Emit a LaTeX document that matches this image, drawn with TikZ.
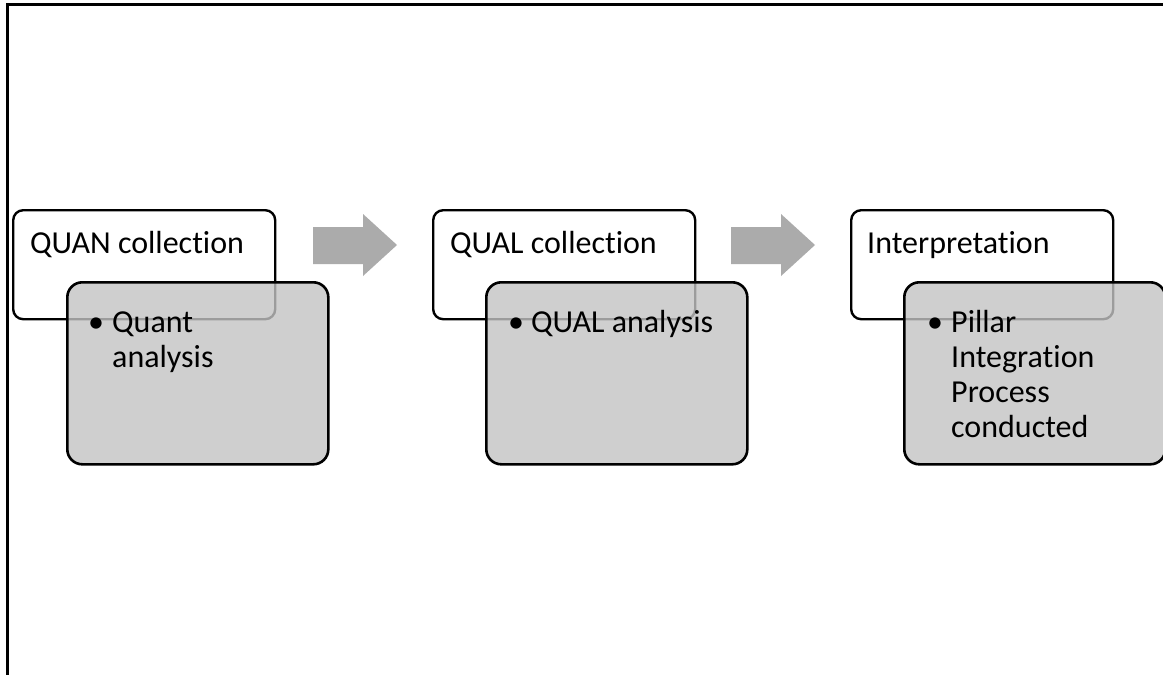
\documentclass[tikz,border=0pt]{standalone}
\usepackage{fontspec}
\setmainfont{Carlito}[Ligatures=NoCommon]
\begin{document}
\begin{tikzpicture}[x=1pt,y=-1pt,
  topbox/.style={draw=black,line width=2.4pt,rounded corners=10pt,fill=white,anchor=north west,minimum width=262pt,minimum height=109pt,inner sep=0pt},
  subbox/.style={draw=black,line width=2.6pt,rounded corners=15pt,fill={rgb,255:red,196;green,196;blue,196},fill opacity=0.8,anchor=north west,minimum width=261pt,minimum height=182pt,inner sep=0pt},
  lbl/.style={anchor=base west,inner sep=0pt,font=\fontsize{32}{35}\selectfont,text=black},
  bul/.style={anchor=base,inner sep=0pt,font=\fontsize{32}{35}\selectfont,text=black},
  arrowfill/.style={fill={rgb,255:red,171;green,171;blue,171}}]
\useasboundingbox (0,0) rectangle (1163,675);
\fill[white] (0,0) rectangle (1163,675);
\draw[line width=3pt] (7,675) -- (7,4) -- (1163,4);

% stage 1
\node[topbox] (w1) at (12,209) {};
\node[lbl] (t1) at (30,253) {QUAN collection};
\node[subbox] (g1) at (66,281) {};
\node[bul] (b1) at (96,332) {•};
\node[lbl] (s1) at (112,332) {\parbox[t]{200pt}{\raggedright Quant\\analysis}};

% arrow 1
\coordinate (a1) at (313,227);
\fill[arrowfill] (a1) -- ++(50,0) -- ++(0,-13) -- ++(34,31) -- ++(-34,31) -- ++(0,-12) -- ++(-50,0) -- cycle;

% stage 2
\node[topbox] (w2) at (432,209) {};
\node[lbl] (t2) at (450,253) {QUAL collection};
\node[subbox] (g2) at (485,281) {};
\node[bul] (b2) at (516,332) {•};
\node[lbl] (s2) at (531,332) {QUAL analysis};

% arrow 2
\coordinate (a2) at (731,227);
\fill[arrowfill] (a2) -- ++(50,0) -- ++(0,-13) -- ++(34,31) -- ++(-34,31) -- ++(0,-12) -- ++(-50,0) -- cycle;

% stage 3
\node[topbox] (w3) at (850,209) {};
\node[lbl] (t3) at (867,253) {Interpretation};
\node[subbox] (g3) at (903,281) {};
\node[bul] (b3) at (935,332) {•};
\node[lbl] (s3) at (951,332) {\parbox[t]{200pt}{\raggedright Pillar\\Integration\\Process\\conducted}};
\end{tikzpicture}
\end{document}
